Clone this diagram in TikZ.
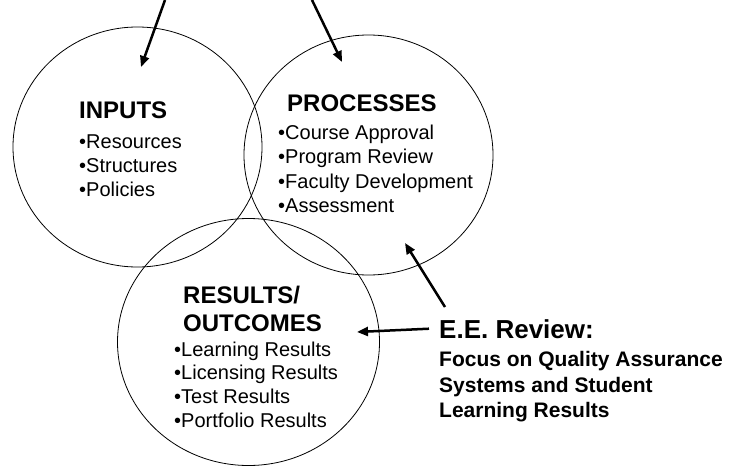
\documentclass[tikz,border=0pt]{standalone}
\usepackage{fontspec}
\setmainfont{Liberation Sans}
\usetikzlibrary{arrows.meta,shapes.geometric}

\begin{document}
\begin{tikzpicture}[x=1pt,y=-1pt,
		ring/.style={draw,ellipse,line width=0.8pt,inner sep=0pt},
		head/.style={anchor=base west,inner sep=0pt,font=\fontsize{24}{28}\selectfont\bfseries},
		entry/.style={anchor=base west,inner sep=0pt,font=\fontsize{20}{24}\selectfont},
		note/.style={anchor=base west,inner sep=0pt,font=\fontsize{21}{25}\selectfont\bfseries},
		pointer/.style={-{Triangle[length=11pt,width=9pt]},line width=2.5pt}]
	\useasboundingbox (0,0) rectangle (731,466);

	% the three rings
	\node[ring,minimum width=249pt,minimum height=240pt] (inputs) at (137.5,147) {};
	\node[ring,minimum width=249pt,minimum height=240pt] (processes) at (368.5,155) {};
	\node[ring,minimum width=262pt,minimum height=247pt] (results) at (248.5,342) {};

	% inputs
	\node[head] (inhead) at (79,118) {INPUTS};
	\node[entry] (in1) at (79,148) {•Resources};
	\node[entry] (in2) at (79,172) {•Structures};
	\node[entry] (in3) at (79,196) {•Policies};

	% processes
	\node[head] (prhead) at (287,111) {PROCESSES};
	\node[entry] (pr1) at (278,139) {•Course Approval};
	\node[entry] (pr2) at (278,163) {•Program Review};
	\node[entry] (pr3) at (278,188) {•Faculty Development};
	\node[entry] (pr4) at (278,212) {•Assessment};

	% results / outcomes
	\node[head] (rehead) at (183,303) {RESULTS/};
	\node[head] (rehead2) at (183,331) {OUTCOMES};
	\node[entry] (re1) at (174,356) {•Learning Results};
	\node[entry] (re2) at (174,379) {•Licensing Results};
	\node[entry] (re3) at (174,403) {•Test Results};
	\node[entry] (re4) at (174,427) {•Portfolio Results};

	% review note
	\node[anchor=base west,inner sep=0pt,font=\fontsize{26}{30}\selectfont\bfseries] (review) at (439,338) {E.E. Review:};
	\node[note] (focus1) at (439,366) {Focus on Quality Assurance};
	\node[note] (focus2) at (439,392) {Systems and Student};
	\node[note] (focus3) at (439,417) {Learning Results};

	% arrows
	\coordinate (intail) at (165,0);
	\coordinate (intip) at (141,67);
	\coordinate (prtail) at (312,0);
	\coordinate (prtip) at (342,62);
	\coordinate (backtail) at (445,307);
	\coordinate (backtip) at (405,243);
	\coordinate (retip) at (357,332);
	\draw[pointer] (intail) -- (intip);
	\draw[pointer] (prtail) -- (prtip);
	\draw[pointer] (backtail) -- (backtip);
	\draw[pointer] ([xshift=-10pt]review.west) -- (retip);
\end{tikzpicture}
\end{document}
